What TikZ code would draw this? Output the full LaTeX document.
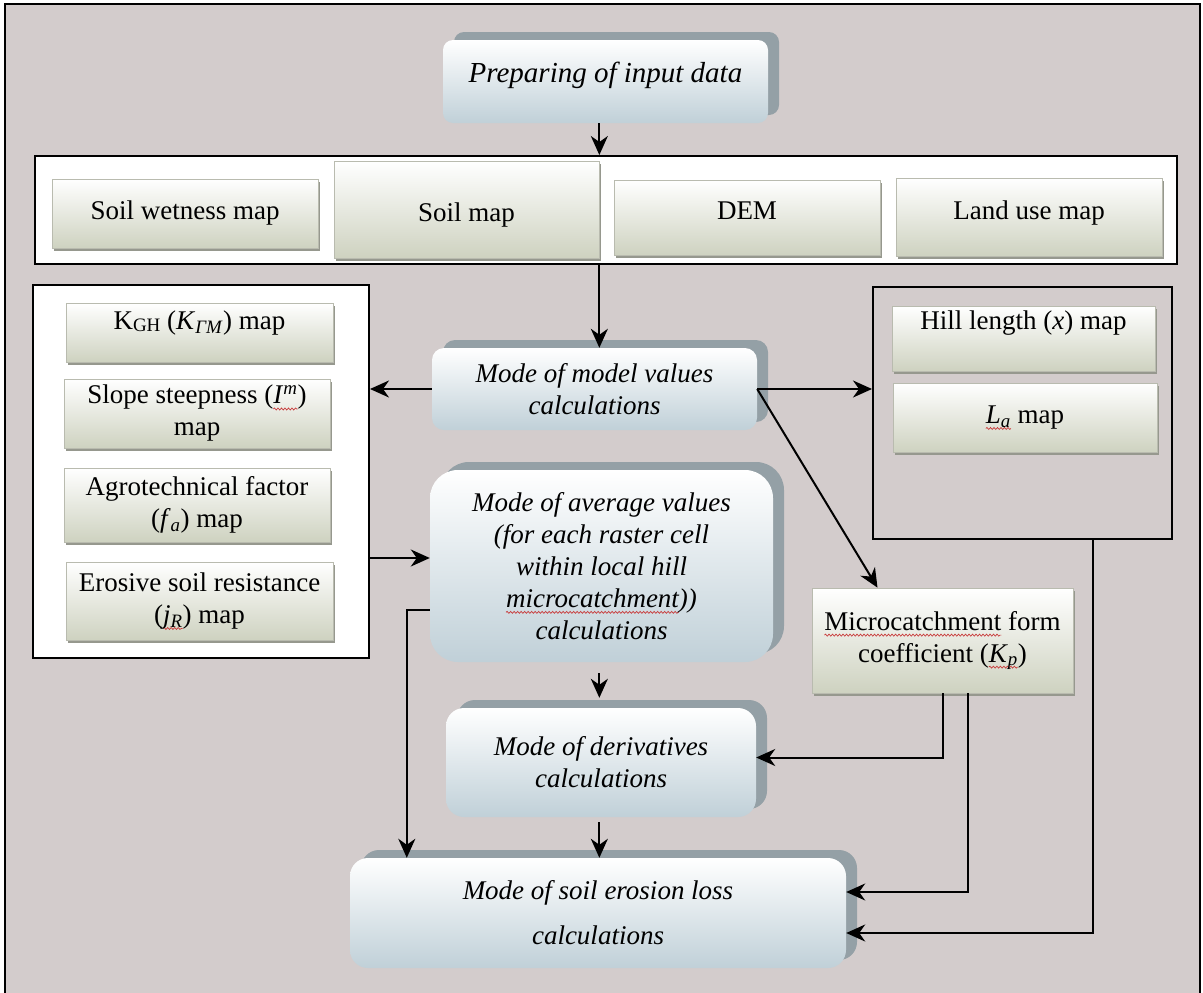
\documentclass[tikz,border=0pt]{standalone}
\usepackage{fontspec}
\setmainfont{Liberation Serif}
\usetikzlibrary{arrows.meta,shadows,calc,decorations.pathmorphing}
\definecolor{bg}{RGB}{211,204,204}
\definecolor{modebot}{RGB}{192,208,216}
\definecolor{modeshadow}{RGB}{148,160,166}
\definecolor{mapbot}{RGB}{206,210,192}
\definecolor{mapedge}{RGB}{185,187,175}
\definecolor{mapshadow}{RGB}{150,152,142}
\definecolor{wavered}{RGB}{200,60,60}
\newsavebox\rwbox
\newlength\rwlen
\newcommand\redwave[1]{\sbox\rwbox{#1}\setlength\rwlen{\wd\rwbox}\leavevmode\rlap{\tikz[overlay]\draw[sharp corners,wavered,line width=0.7pt,decorate,decoration={snake,amplitude=1pt,segment length=3.5pt}] (0pt,-5pt) -- (\rwlen,-5pt);}\usebox\rwbox}
\tikzset{
  modebox/.style={rectangle, rounded corners=#1, top color=white, bottom color=modebot, draw=none,
    general shadow={fill=modeshadow, shadow xshift=11pt, shadow yshift=8pt},
    font=\fontsize{27}{32}\selectfont\itshape, inner sep=0pt},
  modebox/.default=12pt,
  mapbox/.style={rectangle, top color=white, bottom color=mapbot, draw=mapedge, line width=0.7pt,
    general shadow={fill=mapshadow, shadow xshift=2pt, shadow yshift=-3pt},
    font=\fontsize{27}{32}\selectfont, inner sep=0pt},
  contbox/.style={rectangle, draw=black, line width=2pt, fill=white, inner sep=0pt},
  rbox/.style={rectangle, draw=black, line width=2pt, inner sep=0pt},
  arr/.style={line width=2pt, -{Stealth[length=19pt,width=17pt,inset=6pt]}}
}
\begin{document}
\begin{tikzpicture}[x=1pt,y=-1pt]
\fill[white] (0,0) rectangle (1203,993);
\useasboundingbox (0,0) rectangle (1203,993);
\fill[bg] (5,4) rectangle (1200,993);
\draw[line width=2.2pt] (5,993) -- (5,4) -- (1200,4) -- (1200,993);

% containers
\node[contbox, minimum width=1142pt, minimum height=108pt] (cont) at (606,210) {};
\node[contbox, minimum width=336pt, minimum height=373pt] (leftbox) at (201,471.5) {};
\node[rbox, minimum width=299pt, minimum height=252pt] (rightbox) at (1022.5,413) {};

% top
\node[modebox=10pt, minimum width=325pt, minimum height=83pt, text depth=19pt,
      font=\fontsize{29}{33}\selectfont\itshape] (top) at (605.5,81.5) {Preparing of input data};

% input maps
\node[mapbox, minimum width=266pt, minimum height=69pt] (wet) at (185,213.5) {Soil wetness map};
\node[mapbox, minimum width=265pt, minimum height=97pt, text height=30pt] (soil) at (466.5,209.5) {Soil map};
\node[mapbox, minimum width=266pt, minimum height=75pt, text depth=14pt] (dem) at (747,217.5) {DEM};
\node[mapbox, minimum width=266pt, minimum height=78pt, text depth=14pt] (land) at (1029,217) {Land use map};

% left maps
\node[mapbox, minimum width=267pt, minimum height=59pt, text depth=24pt] (kgh) at (199.5,332.5)
  {K\raisebox{-0.05em}{\fontsize{19}{19}\selectfont GH} (\textit{K}\textsubscript{\textit{ΓM}}) map};
\node[mapbox, minimum width=266pt, minimum height=69pt, align=center] (slope) at (197,413.5)
  {Slope steepness (\redwave{\textit{I}\textsuperscript{\textit{m}}})\\map};
\node[mapbox, minimum width=266pt, minimum height=74pt, align=center] (agro) at (197,505)
  {Agrotechnical factor\\(\textit{f}\textsubscript{\textit{a}}) map};
\node[mapbox, minimum width=267pt, minimum height=78pt, align=center] (resist) at (199.5,601)
  {Erosive soil resistance\\(\redwave{\textit{j}\textsubscript{\textit{R}}}) map};

% right maps
\node[mapbox, minimum width=263pt, minimum height=65pt, text depth=36pt] (hill) at (1023.5,338.5)
  {Hill length (\textit{x}) map};
\node[mapbox, minimum width=264pt, minimum height=69pt] (la) at (1025,417.5)
  {\redwave{\textit{L}\textsubscript{\textit{a}}} map};
\node[mapbox, minimum width=261pt, minimum height=105pt, align=center] (micro) at (942.5,640.5)
  {\redwave{Microcatchment} form\\coefficient (\redwave{\textit{K}\textsubscript{\textit{p}}})};

% mode boxes
\node[modebox=12pt, minimum width=325pt, minimum height=82pt, align=center] (model) at (594.5,389)
  {Mode of model values\\calculations};
\node[modebox=28pt, minimum width=343pt, minimum height=192pt, align=center] (avg) at (601.5,566)
  {Mode of average values\\(for each raster cell\\within local hill\\\redwave{microcatchment}))\\calculations};
\node[modebox=18pt, minimum width=310pt, minimum height=109pt, align=center] (deriv) at (601,762.5)
  {Mode of derivatives\\calculations};
\node[modebox=18pt, minimum width=496pt, minimum height=110pt, align=center] (eros) at (598,913)
  {Mode of soil erosion loss\\[13pt]calculations};

% connectors
\draw[arr] (top.south -| soil.east) -- (cont.north -| soil.east);
\draw[arr] (cont.south -| soil.east) -- (model.north -| soil.east);
\draw[arr] (model.west) -- (model.west -| leftbox.east);
\draw[arr] (model.east) -- (model.east -| rightbox.west);
\draw[arr] (model.east) -- ($(micro.north)+(-65,0)$);
\coordinate (a6) at ($(avg.west)+(0,-8)$);
\draw[arr] (a6 -| leftbox.east) -- (a6);
\draw[arr, shorten <=11pt] (avg.south -| soil.east) -- ($(deriv.north -| soil.east)+(0,-10)$);
\draw[arr, shorten <=5pt] (deriv.south -| soil.east) -- (eros.north -| soil.east);
\draw[arr] ($(avg.west)+(0,44)$) -| ($(eros.north west)+(57,0)$);
\draw[arr] (micro.south) |- ($(deriv.east)+(0,-5)$);
\draw[arr] ($(micro.south)+(25,0)$) |- ($(eros.east)+(0,-21)$);
\draw[arr] ($(rightbox.south)+(70,0)$) |- ($(eros.east)+(0,20)$);
\end{tikzpicture}
\end{document}
